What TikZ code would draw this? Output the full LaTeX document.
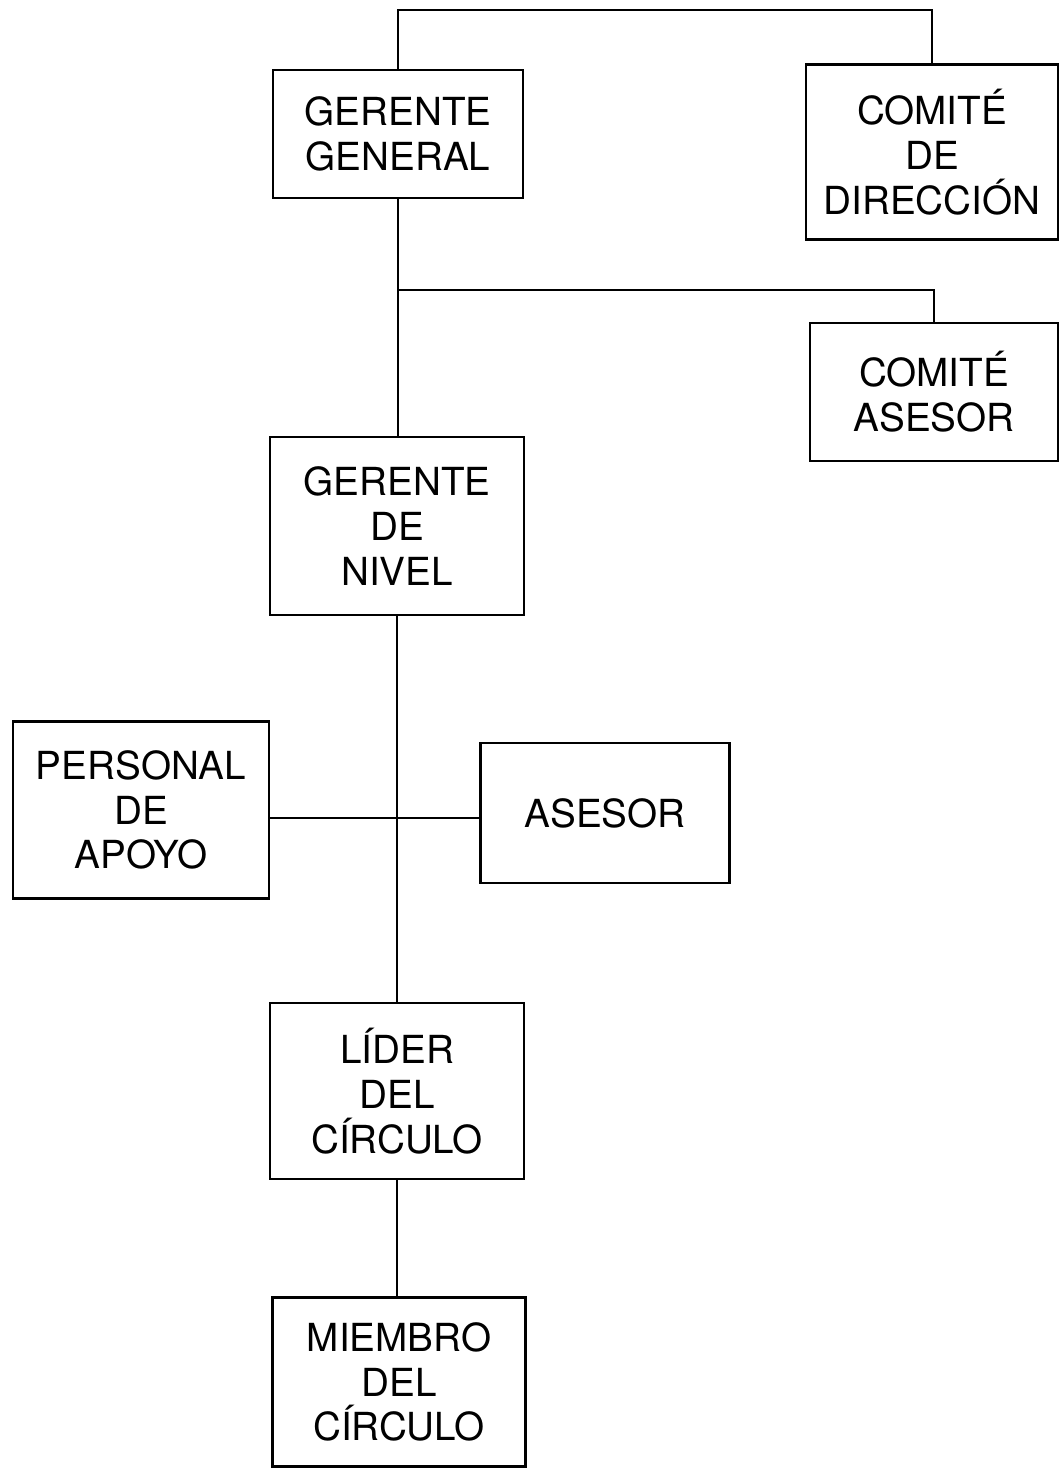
\documentclass[tikz,border=0pt]{standalone}
\usepackage{fontspec}
\setmainfont{TeX Gyre Heros}
\begin{document}
\begin{tikzpicture}[x=0.02cm,y=-0.02cm,
  box/.style={draw=black,line width=1.3pt,align=center,inner sep=0pt,
    font=\fontsize{22pt}{25.5pt}\selectfont},
  link/.style={draw=black,line width=1.3pt}]
\useasboundingbox (0,0) rectangle (1060,1469);

% boxes of the chart
\node[box,minimum width=5cm,minimum height=2.56cm] (gg) at (398,134) {GERENTE\\GENERAL};
\node[box,minimum width=5.04cm,minimum height=3.5cm] (cd) at (932,152) {COMITÉ\\DE\\DIRECCIÓN};
\node[box,minimum width=4.96cm,minimum height=2.76cm] (ca) at (934,392) {COMITÉ\\ASESOR};
\node[box,minimum width=5.08cm,minimum height=3.56cm] (gn) at (397,526) {GERENTE\\DE\\NIVEL};
\node[box,minimum width=5.12cm,minimum height=3.54cm] (pa) at (141,810) {PERSONAL\\DE\\APOYO};
\node[box,minimum width=4.98cm,minimum height=2.8cm] (as) at (605,813) {ASESOR};
\node[box,minimum width=5.08cm,minimum height=3.52cm] (lc) at (397,1091) {LÍDER\\DEL\\CÍRCULO};
\node[box,minimum width=5.06cm,minimum height=3.38cm] (mc) at (399,1382) {MIEMBRO\\DEL\\CÍRCULO};

% junction points
\coordinate (top) at (667,10);
\coordinate (br) at (399,290);
\coordinate (mid) at (399,818);

% connectors
\draw[link] (gg.north) |- (top) -| (cd.north);
\draw[link] (gg.south) -- (gg.south |- gn.north);
\draw[link] (br) -| (ca.north);
\draw[link] (gn.south) -- (gn.south |- lc.north);
\draw[link] (pa.east |- mid) -- (as.west |- mid);
\draw[link] (lc.south) -- (lc.south |- mc.north);
\end{tikzpicture}
\end{document}
